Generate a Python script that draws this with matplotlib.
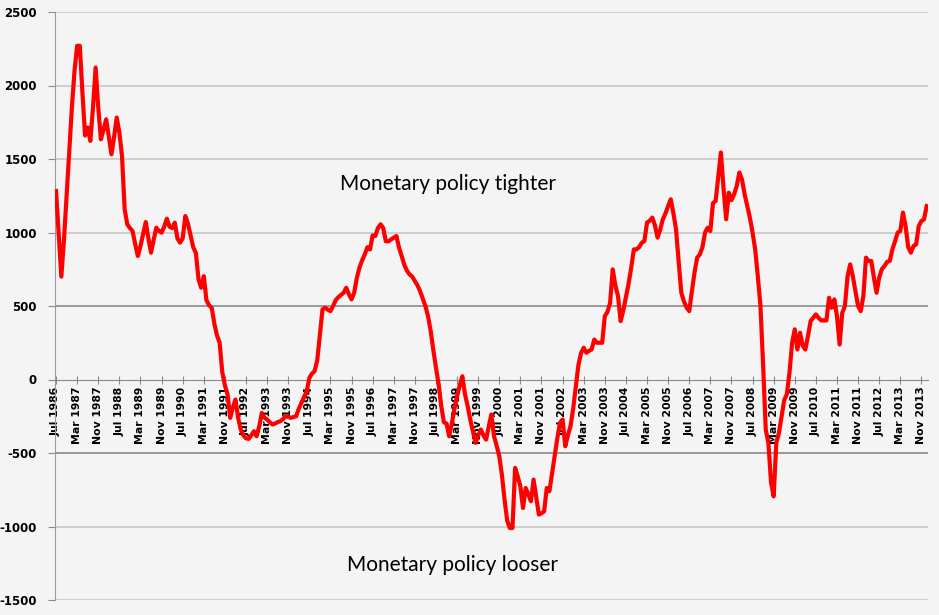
import numpy as np
import pandas as pd
import matplotlib
matplotlib.use("Agg")
import matplotlib.pyplot as plt

# monthly series, Jul 1986 .. Jan 2014
start = "1986-07"
values = [
    1282, 990, 700, 950, 1250, 1550, 1850, 2100, 2270, 2270,
    1950, 1660, 1714, 1623, 1850, 2122, 1850, 1634, 1700, 1770,
    1650, 1532, 1650, 1782, 1680, 1521, 1158, 1056, 1030, 1010,
    920, 840, 908, 990, 1071, 960, 863, 950, 1033, 1010,
    999, 1040, 1094, 1040, 1030, 1067, 960, 931, 960, 1112,
    1060, 980, 900, 860, 681, 624, 703, 540, 505, 488,
    380, 300, 250, 50, -40, -100, -261, -190, -136, -260,
    -340, -380, -400, -404, -380, -352, -386, -320, -227, -260,
    -272, -290, -306, -300, -290, -284, -270, -250, -255, -261,
    -255, -250, -200, -159, -120, -80, 10, 40, 57, 130,
    300, 477, 488, 475, 465, 500, 540, 560, 575, 590,
    624, 580, 545, 590, 690, 760, 810, 850, 900, 885,
    980, 976, 1030, 1056, 1030, 940, 940, 953, 965, 976,
    897, 840, 780, 740, 715, 700, 670, 640, 600, 550,
    500, 430, 330, 200, 80, -30, -180, -290, -300, -386,
    -300, -200, -114, -40, 22, -100, -180, -272, -350, -431,
    -380, -340, -380, -409, -320, -238, -386, -450, -522, -650,
    -817, -960, -1010, -1010, -601, -660, -727, -874, -738, -780,
    -829, -681, -800, -919, -910, -897, -738, -760, -640, -522,
    -400, -295, -272, -454, -380, -318, -200, -50, 100, 180,
    216, 182, 195, 204, 272, 250, 250, 250, 431, 460,
    520, 749, 640, 567, 397, 470, 560, 650, 760, 885,
    885, 900, 930, 942, 1067, 1080, 1101, 1050, 965, 1020,
    1090, 1130, 1180, 1226, 1130, 1022, 800, 590, 530, 490,
    465, 600, 727, 829, 850, 900, 1000, 1033, 1010, 1200,
    1214, 1380, 1544, 1300, 1090, 1271, 1220, 1260, 1316, 1408,
    1360, 1260, 1180, 1100, 1000, 885, 700, 500, 100, -340,
    -431, -700, -795, -431, -363, -250, -140, -100, 46, 250,
    341, 204, 318, 230, 204, 295, 397, 420, 443, 420,
    402, 402, 402, 556, 488, 545, 431, 238, 454, 499,
    700, 783, 703, 600, 500, 465, 567, 829, 806, 806,
    693, 590, 693, 750, 772, 800, 806, 885, 940, 999,
    1010, 1135, 1044, 900, 863, 908, 919, 1044, 1078, 1090,
    1180,
]
y_ticks = [-1500, -1000, -500, 0, 500, 1000, 1500, 2000, 2500]
label_every = 8
note_top = "Monetary policy tighter"
note_bottom = "Monetary policy looser"

dates = pd.period_range(start, periods=len(values), freq="M")
x = np.arange(len(values))

bg = "#f4f4f4"
fig = plt.figure(figsize=(9.39, 6.15), dpi=100, facecolor=bg)
ax = fig.add_axes([55/939, 15/615, 873/939, 588/615], facecolor=bg)

# axis crosses at zero (set before tick labels, it resets them)
ax.spines["bottom"].set_position(("data", 0))
ax.spines["bottom"].set_color("#8a8a8a")
ax.spines["left"].set_color("#9a9a9a")
ax.spines["top"].set_visible(False)
ax.spines["right"].set_visible(False)

for yv in y_ticks:
    if yv == 0:
        continue
    col = "#8a8a8a" if abs(yv) == 500 else "#c8c8c8"
    ax.axhline(yv, color=col, lw=1.2, zorder=1)

ax.plot(x, values, color="#ff0000", lw=3.0, zorder=3, solid_joinstyle="round")

ax.set_xlim(-0.4, len(values) - 0.5)
ax.set_ylim(-1500, 2500)
ax.set_yticks(y_ticks)
ax.set_yticklabels([str(v) for v in y_ticks], fontsize=8.5, fontweight="bold")

tick_pos = x[::label_every]
ax.set_xticks(tick_pos)
ax.set_xticklabels([dates[i].strftime("%b %Y") for i in tick_pos],
                   rotation=90, fontsize=7.8, fontweight="bold", va="top", ha="center")

ax.tick_params(axis="x", direction="inout", length=6, color="#8a8a8a", pad=2)
ax.tick_params(axis="y", direction="out", length=5, color="#8a8a8a", pad=8)

ax.text(148.7, 1328, note_top, ha="center", va="center", fontsize=15, family="Lato")
ax.text(150.2, -1260, note_bottom, ha="center", va="center", fontsize=15, family="Lato")

plt.savefig("out.png", dpi=100, facecolor=bg)
